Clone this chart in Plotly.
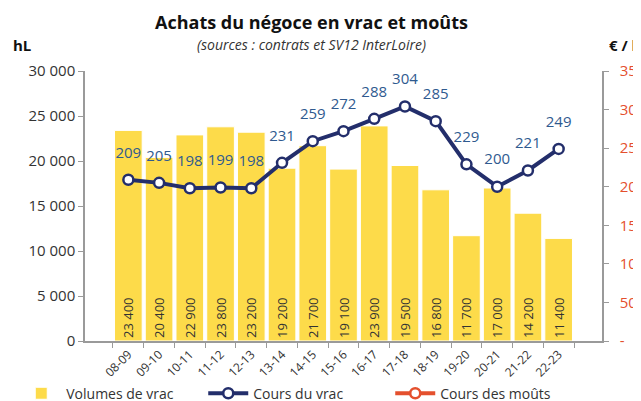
import plotly.graph_objects as go

# Campagnes, volumes achetés (hL) et cours (€/hl)
CAMPAGNES = ["08-09", "09-10", "10-11", "11-12", "12-13", "13-14", "14-15", "15-16",
             "16-17", "17-18", "18-19", "19-20", "20-21", "21-22", "22-23"]
VOLUMES_VRAC = [23400, 20400, 22900, 23800, 23200, 19200, 21700, 19100,
                23900, 19500, 16800, 11700, 17000, 14200, 11400]
COURS_VRAC = [209, 205, 198, 199, 198, 231, 259, 272, 288, 304, 285, 229, 200, 221, 249]
COURS_MOUTS = [None] * len(CAMPAGNES)

JAUNE = "#FDDB4A"
MARINE = "#232E6B"
BLEU_TXT = "#2F5A8F"
ROUGE = "#E4502E"
TINTA = "#333333"
GRIS = "#9A9A9A"
POLICE = "Open Sans"

fig = go.Figure()
fig.add_trace(go.Bar(
    x=CAMPAGNES, y=VOLUMES_VRAC, name="Volumes de vrac",
    marker=dict(color=JAUNE, line=dict(color="white", width=1)),
    texttemplate="%{y:,}", textposition="inside", insidetextanchor="start",
    textangle=-90, textfont=dict(size=13, color=TINTA), cliponaxis=False))
fig.add_trace(go.Scatter(
    x=CAMPAGNES, y=COURS_VRAC, name="Cours du vrac", yaxis="y2",
    mode="lines+markers", line=dict(color=MARINE, width=4),
    marker=dict(size=10, color="white", line=dict(color=MARINE, width=2.5))))
# étiquettes des cours, décalées au-dessus des points
fig.add_trace(go.Scatter(
    x=CAMPAGNES, y=COURS_VRAC, yaxis="y2", showlegend=False, hoverinfo="skip",
    mode="markers+text", text=[str(v) for v in COURS_VRAC],
    textposition="top center", textfont=dict(size=15, color=BLEU_TXT),
    marker=dict(size=28, opacity=0)))
fig.add_trace(go.Scatter(
    x=CAMPAGNES, y=COURS_MOUTS, name="Cours des moûts", yaxis="y2",
    mode="lines+markers", line=dict(color=ROUGE, width=4),
    marker=dict(size=10, color="white", line=dict(color=ROUGE, width=2.5))))

fig.update_layout(
    width=633, height=393, separators=", ",
    paper_bgcolor="white", plot_bgcolor="white",
    font=dict(family=POLICE, color=TINTA, size=14),
    margin=dict(l=77, r=39, t=63, b=60, autoexpand=False),
    bargap=0.1, showlegend=True,
    xaxis=dict(type="category", tickangle=-45, tickfont=dict(size=12, color=TINTA),
               showline=True, linecolor=GRIS, linewidth=1.5,
               ticks="outside", tickson="boundaries", ticklen=5, tickcolor=GRIS),
    yaxis=dict(range=[0, 30000], dtick=5000, showgrid=False, zeroline=False,
               showline=True, linecolor=GRIS, linewidth=1.5,
               ticks="outside", ticklen=5, tickcolor=GRIS, tickformat=",",
               tickfont=dict(size=15, color=TINTA)),
    yaxis2=dict(range=[0, 350], overlaying="y", side="right", showgrid=False,
                zeroline=False, showline=True, linecolor=GRIS, linewidth=1.5,
                ticks="outside", ticklen=5, tickcolor=GRIS, ticklabelstandoff=8,
                tickvals=[0, 50, 100, 150, 200, 250, 300, 350],
                ticktext=["-", "50", "100", "150", "200", "250", "300", "350"],
                tickfont=dict(size=15, color=ROUGE)),
    legend=dict(orientation="h", x=-0.133, xanchor="left", y=-0.195, yanchor="middle",
                font=dict(size=14, color=TINTA), bgcolor="rgba(0,0,0,0)",
                itemwidth=40, entrywidth=132),
    annotations=[
        dict(text="<b>Achats du négoce en vrac et moûts</b>", xref="paper", yref="paper",
             x=0.439, y=1.0, yshift=49, yanchor="middle", showarrow=False,
             font=dict(size=18, color="#111111")),
        dict(text="<i>(sources : contrats et SV12 InterLoire)</i>", xref="paper", yref="paper",
             x=0.439, y=1.0, yshift=27, yanchor="middle", showarrow=False,
             font=dict(size=14, color=TINTA)),
        dict(text="<b>hL</b>", xref="paper", yref="paper", x=-0.143, xanchor="left",
             y=1.0, yshift=26, yanchor="middle", showarrow=False,
             font=dict(size=15, color="#111111")),
        dict(text="<b>€ / hl</b>", xref="paper", yref="paper", x=1.01, xanchor="left",
             y=1.0, yshift=26, yanchor="middle", showarrow=False,
             font=dict(size=15, color="#111111")),
    ],
)

fig.write_html("out.html")
